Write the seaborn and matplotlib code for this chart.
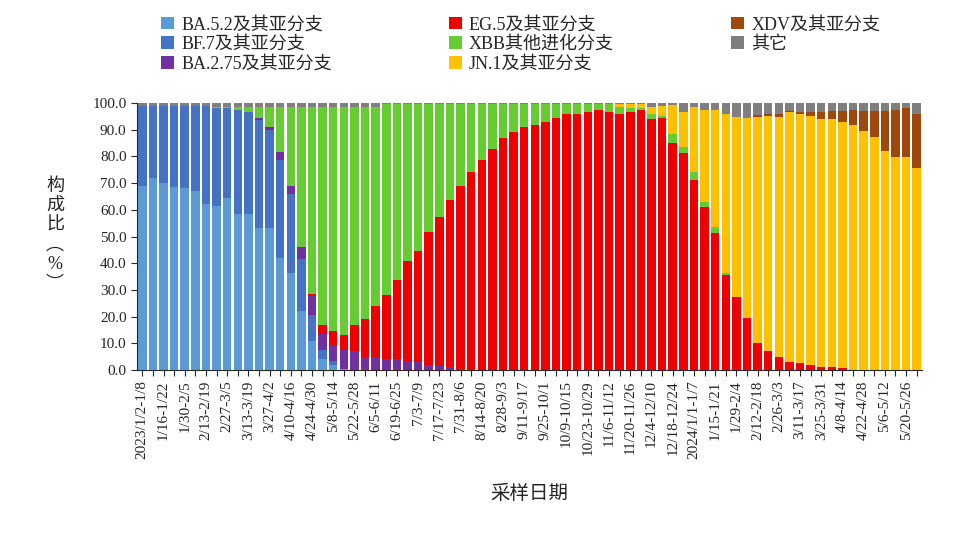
import matplotlib
matplotlib.use("Agg")
import matplotlib.pyplot as plt
import seaborn as sns
import numpy as np
import pandas as pd
from matplotlib.ticker import FormatStrFormatter

sns.set_style("ticks")
plt.rcParams['font.family'] = ['Liberation Serif', 'Noto Sans CJK SC', 'DejaVu Sans']

N = 74
weeks = pd.date_range("2023-01-02", periods=N, freq="7D")
tick_labels = []
for i, d in enumerate(weeks):
    e = d + pd.Timedelta(days=6)
    s = f"{d.year}/{d.month}/{d.day}" if (i == 0 or (d.year == 2024 and d.month == 1 and d.day <= 7)) else f"{d.month}/{d.day}"
    tick_labels.append(f"{s}-{e.month}/{e.day}")

def pad(vals, start=0):
    out = [0.0] * N
    for i, v in enumerate(vals):
        out[start + i] = v
    return out

ba52 = pad([69,72,70,68.5,68,67,62,61.5,64.5,58.5,58.5,53,53,42,36.5,22,11,4,2,0.5])
bf7 = pad([30,27,29,30.5,31,32,37,36.5,33.5,39,38,40.5,37,36.6,29.5,19.6,9.6,3.5,1.5,0])
ba275 = pad([1,1,3,3,4.5,7,6,6,7,7,5,5,4,4,3.5,3,2,1.5,1,0.5], start=11)
eg5 = pad([1,3.5,5,5.5,10,14,19,24,29.7,37.5,41.6,49.5,55.8,62.5,68.5,74,78.5,82.8,87,89,91,91.7,
           93,94.5,95.7,95.7,96.7,97.3,96.7,95.7,96.7,97.3,94,94.3,85,81.4,71,61,51.4,35.6,27.5,19.4,
           10,7,5,3,2.5,2,1.2,1,0.8], start=16)
xbb = pad([0,0,0,0,0,0,0,0.5,0.5,1,2,4,7.5,17,29.5,52.4,70,81.5,84,85.5,81.5,79.5,74.5,71.5,65.8,58.5,
           54.9,48,42.2,36,30.5,25.5,21,16.7,12.5,10.5,8.5,7.8,6.5,5,3.8,3.8,2.8,2.2,2.8,2.8,1.3,0.7,
           2,1,3.5,2,3.3,2,2,0.6])
jn1 = pad([1,1.5,1.5,2.5,3.7,10.8,13.3,24.3,34.4,44,59.5,67.4,74.8,84.9,88.3,89.9,93.5,93.4,93.3,92.8,
           93,92.2,91.8,89.5,87.4,82,79.9,79.9,75.5], start=45)
xdv = pad([0.6,0.7,1.1,0.5,0.6,1.2,2.5,3,4,5.7,7.5,9.6,15,17.6,18.1,20.5], start=58)
other = pad([1,1,1,1,1,1,1,1.5,1.5,1.5,1.5,1.5,1.5,1.5,1.5,1.5,1.5,1.5,1.5,1.5,1.5,1.5,1.5,
             0.5,0.5,0.5,0.5,0.5,0.5,0.5,0.5,0.5,0.5,0.5,0.5,0.5,0.5,0.5,0.5,0.5,0.5,0.5,0.5,0.5,0.5,0.5,0.5,0.5,
             1.5,1,0.7,3.3,1.4,2.6,2.6,4.3,5.1,5.8,4.5,4,4,3,3.5,3.5,3.5,3,3,2.5,3,3,3,2.5,2,4])

series = [("BA.5.2及其亚分支", ba52, "#5B9BD5"),
          ("BF.7及其亚分支", bf7, "#4472C4"),
          ("BA.2.75及其亚分支", ba275, "#7030A0"),
          ("EG.5及其亚分支", eg5, "#EE0000"),
          ("XBB其他进化分支", xbb, "#66CC33"),
          ("JN.1及其亚分支", jn1, "#FFC000"),
          ("XDV及其亚分支", xdv, "#9E480E"),
          ("其它", other, "#7F7F7F")]

fig = plt.figure(figsize=(9.6, 5.39), dpi=100)
ax = fig.add_axes([137/960, 1-370/539, 785/960, 267/539])
x = np.arange(N)
bottom = np.zeros(N)
handles = []
for name, vals, col in series:
    v = np.array(vals)
    b = ax.bar(x, v, bottom=bottom, width=0.8, color=col, label=name, linewidth=0)
    handles.append(b)
    bottom += v

ax.set_xlim(-0.5, N - 0.5)
ax.set_ylim(0, 100)
ax.set_yticks(np.arange(0, 101, 10))
ax.yaxis.set_major_formatter(FormatStrFormatter('%.1f'))
ax.set_xticks(x)
ax.set_xticklabels([t if i % 2 == 0 else "" for i, t in enumerate(tick_labels)], rotation=90, fontsize=11)
ax.tick_params(axis='y', labelsize=11, length=4)
ax.tick_params(axis='x', length=4)
for s in ['top', 'right']:
    ax.spines[s].set_visible(False)

ax.set_xlabel("采样日期", fontsize=14, labelpad=18)
fig.text(55/960, 1-235/539, "构\n成\n比\n︵\n%\n︶", fontsize=13, ha='center', va='center', linespacing=1.2)

fig.legend(handles=handles, labels=[s[0] for s in series], ncol=3, loc='upper left',
           bbox_to_anchor=(145/960, 1.0), frameon=False, fontsize=13,
           handlelength=0.7, handleheight=0.7, columnspacing=6.5, labelspacing=0.15, handletextpad=0.4)

fig.savefig("out.png", dpi=100)
